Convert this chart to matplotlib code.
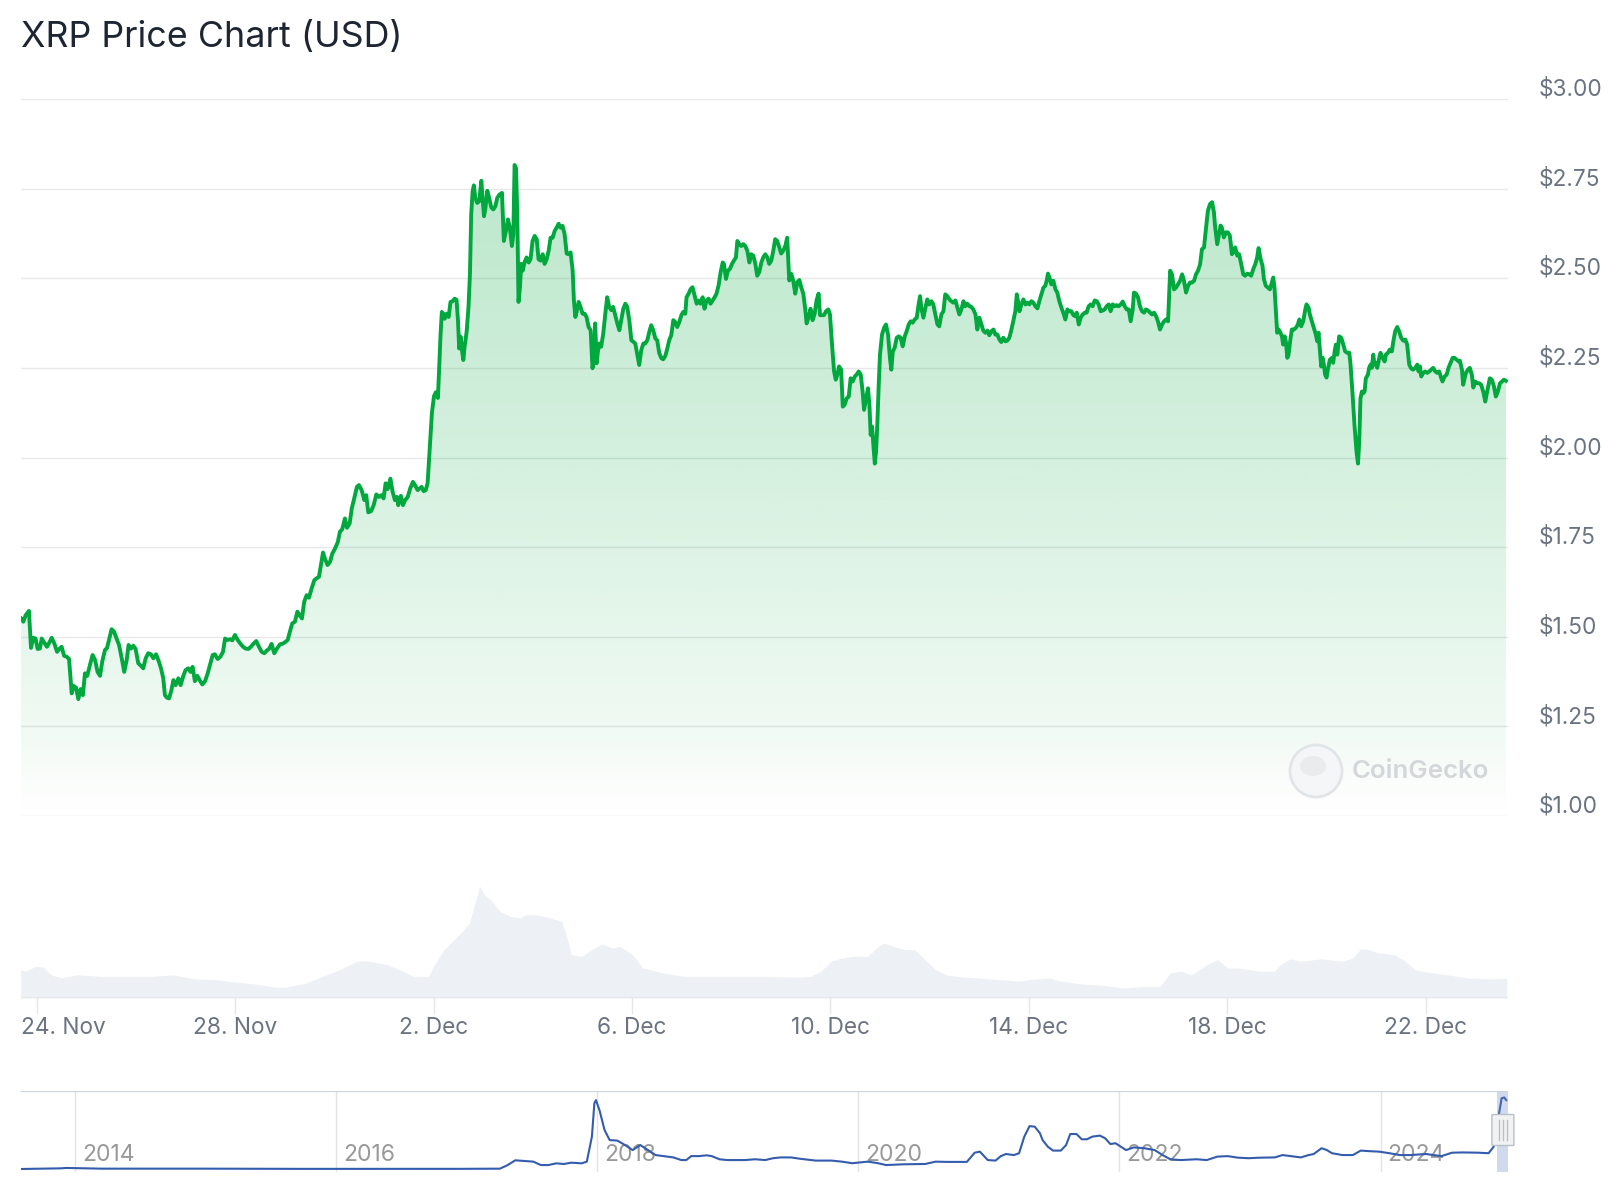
import numpy as np
import pandas as pd
import matplotlib
matplotlib.use("Agg")
import matplotlib.pyplot as plt
import matplotlib.dates as mdates
import matplotlib.transforms as mtransforms
from matplotlib.patches import Ellipse, FancyBboxPatch

plt.rcParams['font.family'] = ['Inter', 'DejaVu Sans']

# ---------------- data ----------------
START = '2024-11-23 12:00'           # hours below are counted from here
X_RANGE = ('2024-11-23 16:10', '2024-12-23 15:42')

# (hours since START, price in USD)
price_nov = [
    (4.4,1.551),(5.5,1.542),(6.6,1.560),(8.2,1.572),(9.2,1.469),(10.3,1.497),(11.4,1.495),(12.4,1.466),
    (13.5,1.467),(14.4,1.495),(15.6,1.484),(16.9,1.472),(18.1,1.484),(19.2,1.497),(20.5,1.481),(21.8,1.458),
    (22.9,1.466),(24.0,1.472),(25.2,1.447),(26.5,1.444),(27.6,1.438),(28.9,1.342),(29.8,1.363),(31.0,1.358),
    (32.1,1.326),(33.2,1.354),(34.3,1.337),(35.3,1.398),(36.4,1.391),(37.7,1.421),(39.0,1.449),(40.2,1.435),
    (41.4,1.402),(42.6,1.391),(43.7,1.432),(45.0,1.463),(46.0,1.469),(47.1,1.495),(48.2,1.521),(49.4,1.514),
    (50.6,1.495),(51.8,1.477),(53.1,1.440),(54.3,1.402),(55.5,1.435),(56.4,1.477),(57.6,1.467),(58.7,1.475),
    (59.8,1.466),(61.1,1.426),(62.4,1.419),(63.5,1.412),(64.7,1.440),(65.9,1.454),(67.2,1.451),(68.4,1.440),
    (69.7,1.451),(70.8,1.435),(72.1,1.412),(73.2,1.384),(74.0,1.337),(75.0,1.330),(76.0,1.328),(77.1,1.350),
    (78.1,1.379),(79.2,1.365),(80.5,1.384),(81.6,1.365),(82.9,1.391),(84.0,1.407),(85.3,1.412),(86.4,1.402),
    (87.4,1.416),(88.5,1.376),(89.7,1.391),(90.8,1.379),(92.1,1.367),(93.4,1.376),(94.7,1.398),(95.8,1.421),
    (97.1,1.449),(98.2,1.451),(99.5,1.438),(100.8,1.444),(102.1,1.458),(103.1,1.495),(104.2,1.491),(105.5,1.493),
    (106.6,1.490),(107.9,1.505),(109.2,1.491),(110.5,1.481),(111.8,1.472),(113.1,1.467),(114.4,1.466),(115.6,1.472),
    (116.9,1.481),(118.2,1.488),(119.5,1.472),(120.8,1.458),(122.1,1.454),(123.4,1.462),(124.5,1.467),(125.6,1.480),
    (126.9,1.454),(128.2,1.467),(129.7,1.479),(131.1,1.481),(132.4,1.486),(133.4,1.491),(134.7,1.519),(135.6,1.537),
    (136.9,1.542),(138.1,1.570),(139.2,1.560),(140.3,1.551),(141.4,1.598),(142.6,1.616),(143.7,1.609),(145.0,1.635),
    (146.3,1.658),(147.4,1.663),(148.5,1.667),(149.5,1.700),(150.5,1.735),(151.4,1.718),(152.7,1.700),(153.9,1.709),
    (155.0,1.732),(156.3,1.746),(157.6,1.763),(158.7,1.793),(159.8,1.800),(161.1,1.830),(162.1,1.804),(163.4,1.816),
    (164.4,1.858),(165.6,1.886),(166.9,1.918),(167.9,1.923),(169.2,1.909),(170.5,1.881),(171.4,1.895),(172.4,1.847),
    (173.7,1.850),(175.0,1.867),(176.3,1.897),(177.6,1.890),(178.9,1.895),(179.8,1.886),(180.8,1.928),(181.8,1.912),
    (183.1,1.941),(184.2,1.904),(185.3,1.881),(186.3,1.890),(186.9,1.867),(188.2,1.893),(189.2,1.867),(190.2,1.881),
    (191.5,1.890),(192.7,1.914),(194.0,1.932),(195.0,1.923),(196.3,1.909),(197.4,1.914),(198.2,1.918),(199.2,1.906),
    (200.2,1.909),(201.1,1.928),
]
price_dec_a = [
    (202.2,2.032),(203.2,2.125),(204.2,2.171),(205.1,2.182),(206.1,2.166),(206.8,2.263),(207.4,2.346),(208.0,2.406),
    (208.7,2.401),(209.3,2.387),(210.3,2.401),(211.3,2.392),(212.2,2.434),(213.2,2.436),(214.2,2.443),(215.1,2.440),
    (215.8,2.383),(216.4,2.304),(217.1,2.337),(217.7,2.300),(218.4,2.272),(219.0,2.309),(220.0,2.351),(220.9,2.420),
    (221.6,2.512),(222.2,2.678),(222.9,2.743),(223.5,2.759),(224.2,2.724),(225.1,2.710),(226.1,2.715),(227.1,2.772),
    (227.7,2.724),(228.4,2.673),(229.0,2.692),(230.0,2.744),(230.9,2.724),(231.9,2.698),(232.9,2.692),(233.9,2.701),
    (234.8,2.724),(235.8,2.733),(237.1,2.738),(238.0,2.604),(239.0,2.632),(240.0,2.664),(240.9,2.641),(241.9,2.590),
    (242.6,2.623),(243.2,2.816),(243.9,2.807),(244.5,2.678),(245.1,2.434),(245.8,2.475),(246.4,2.540),(247.1,2.521),
    (248.0,2.544),(249.0,2.558),(250.0,2.544),(250.9,2.553),(251.9,2.604),(252.9,2.618),(253.9,2.609),(254.8,2.553),
    (255.8,2.549),(256.8,2.567),(257.7,2.540),(258.7,2.553),(259.7,2.577),(260.6,2.613),(261.6,2.613),(262.6,2.632),
    (263.5,2.641),(264.5,2.652),(265.5,2.641),(266.4,2.646),(267.4,2.623),(268.4,2.569),(269.3,2.567),(270.3,2.572),
    (271.3,2.521),(271.9,2.438),(272.6,2.392),(273.2,2.406),(274.2,2.434),(275.1,2.420),(276.1,2.401),(277.1,2.401),
    (278.0,2.392),(279.0,2.364),(280.0,2.355),(280.9,2.249),(281.6,2.272),(282.2,2.374),(282.9,2.263),(283.5,2.295),
    (284.2,2.318),(285.1,2.309),(286.1,2.346),(287.1,2.401),(288.0,2.447),(289.0,2.420),(290.0,2.411),(290.9,2.420),
    (291.9,2.397),(292.9,2.374),(293.9,2.355),(294.8,2.383),(295.8,2.415),(296.8,2.429),(297.7,2.420),(298.7,2.383),
    (299.7,2.327),(300.6,2.323),(301.6,2.318),(302.6,2.286),(303.5,2.258),(304.5,2.300),(305.5,2.318),(306.4,2.318),
    (307.4,2.327),(308.4,2.351),(309.3,2.369),(310.3,2.355),(311.3,2.332),(312.2,2.327),(313.2,2.291),(314.2,2.277),
    (315.1,2.274),(316.1,2.283),(317.1,2.304),(318.0,2.327),(319.0,2.341),(320.0,2.383),(320.9,2.378),(321.9,2.364),
    (322.9,2.378),(323.9,2.397),(324.8,2.406),(325.8,2.401),(326.4,2.447),(327.4,2.457),(328.4,2.470),(329.3,2.475),
    (330.3,2.452),(331.3,2.429),(332.2,2.438),(333.2,2.429),(334.2,2.447),(335.1,2.415),(336.1,2.438),(337.1,2.443),
    (338.0,2.429),(339.0,2.438),(340.0,2.447),(340.9,2.457),(341.9,2.480),(342.9,2.517),(343.9,2.544),(344.5,2.540),
    (345.5,2.498),(346.4,2.521),(347.4,2.526),(348.4,2.540),(349.3,2.549),(350.3,2.558),(351.0,2.604),(351.9,2.595),
    (352.9,2.590),(353.9,2.595),(354.8,2.590),(355.8,2.577),(356.8,2.544),(357.7,2.567),(358.7,2.563),(359.7,2.540),
    (360.6,2.507),(361.6,2.517),(362.6,2.544),(363.5,2.558),(364.5,2.567),(365.5,2.558),(366.4,2.540),(367.4,2.549),
    (368.4,2.577),(369.3,2.609),(370.3,2.604),(371.3,2.586),(372.2,2.569),(373.2,2.577),(374.2,2.590),(375.1,2.613),
    (376.1,2.494),(377.1,2.512),(378.0,2.494),(379.0,2.457),(380.0,2.489),(381.0,2.495),(381.9,2.475),(382.9,2.457),
    (383.9,2.411),(384.5,2.374),(385.5,2.392),(386.4,2.415),(387.4,2.383),(388.4,2.401),(389.3,2.438),(390.3,2.457),
    (391.0,2.397),
]
price_dec_b = [
    (392.9,2.397),(393.9,2.408),(395.0,2.413),(395.8,2.399),(396.8,2.315),(397.8,2.240),(398.6,2.217),(399.4,2.231),
    (400.2,2.254),(401.2,2.245),(402.0,2.142),(402.9,2.147),(403.9,2.165),(404.9,2.170),(405.8,2.221),(406.8,2.212),
    (407.8,2.226),(408.7,2.231),(409.7,2.240),(410.7,2.231),(411.6,2.184),(412.3,2.133),(413.3,2.165),(414.2,2.193),
    (414.9,2.147),(415.5,2.063),(416.2,2.086),(416.8,2.035),(417.5,1.983),(418.1,2.016),(418.7,2.091),(419.4,2.203),
    (420.0,2.287),(421.0,2.343),(422.0,2.362),(422.9,2.371),(423.9,2.343),(424.9,2.273),(425.5,2.245),(426.2,2.296),
    (427.1,2.306),(428.1,2.334),(429.1,2.338),(430.0,2.334),(431.0,2.310),(432.0,2.338),(432.9,2.352),(433.9,2.371),
    (434.9,2.380),(435.8,2.376),(436.8,2.385),(437.8,2.390),(438.7,2.427),(439.4,2.450),(440.0,2.418),(441.0,2.390),
    (442.0,2.418),(442.9,2.441),(443.9,2.427),(444.9,2.436),(445.8,2.427),(446.8,2.399),(447.8,2.371),(448.7,2.366),
    (449.7,2.399),(450.7,2.408),(451.6,2.455),(452.6,2.450),(453.6,2.441),(454.5,2.436),(455.5,2.432),(456.5,2.438),
    (457.5,2.418),(458.4,2.399),(459.4,2.413),(460.4,2.436),(461.3,2.422),(462.3,2.429),(463.3,2.422),(464.2,2.420),
    (465.2,2.413),(466.2,2.399),(467.1,2.357),(468.1,2.390),(469.1,2.371),(470.0,2.354),(471.0,2.348),(472.0,2.354),
    (472.9,2.341),(473.9,2.352),(474.9,2.357),(475.8,2.343),(476.8,2.343),(477.8,2.329),(478.7,2.322),(479.7,2.334),
    (480.7,2.324),(481.6,2.326),(482.6,2.334),(483.6,2.357),(484.5,2.380),(485.5,2.408),(486.2,2.455),(486.8,2.436),
    (487.5,2.408),(488.4,2.427),(489.4,2.441),(490.4,2.427),(491.3,2.432),(492.3,2.427),(493.3,2.436),(494.2,2.432),
    (495.2,2.422),(496.2,2.416),(497.1,2.436),(498.1,2.455),(499.1,2.474),(500.0,2.479),(500.7,2.494),(501.3,2.513),
    (502.0,2.502),(502.9,2.483),(503.9,2.493),(504.9,2.469),(505.8,2.460),(506.8,2.436),(507.8,2.418),(508.7,2.404),
    (509.7,2.385),(510.7,2.413),(511.6,2.408),(512.6,2.408),(513.6,2.397),(514.5,2.394),(515.2,2.404),(516.2,2.371),
    (517.1,2.390),(518.1,2.399),(519.1,2.404),(520.0,2.404),(521.0,2.422),(522.0,2.427),(522.9,2.422),(523.9,2.438),
    (524.9,2.436),(525.8,2.427),(526.8,2.408),(527.8,2.410),(528.7,2.413),(529.7,2.422),(530.7,2.427),(531.6,2.408),
    (532.6,2.427),(533.6,2.422),(534.5,2.425),(535.5,2.422),(536.5,2.427),(537.5,2.435),(538.4,2.422),(539.4,2.413),
    (540.4,2.413),(541.3,2.380),(542.3,2.413),(542.9,2.460),(543.9,2.457),(544.9,2.446),(545.8,2.422),(546.8,2.408),
    (547.8,2.404),(548.7,2.413),(549.7,2.410),(550.7,2.404),(551.6,2.399),(552.6,2.404),(553.6,2.394),(554.5,2.380),
    (555.5,2.357),(556.5,2.371),(557.5,2.380),(558.4,2.385),(559.4,2.380),(560.4,2.521),(561.3,2.511),(562.3,2.469),
    (563.3,2.474),(564.2,2.483),(565.2,2.493),(566.2,2.511),(567.1,2.493),(568.1,2.460),(569.1,2.479),(570.0,2.488),
    (571.0,2.488),(572.0,2.493),(572.9,2.511),(573.9,2.521),(574.9,2.539),(575.8,2.581),(576.8,2.586),(577.8,2.642),
    (578.7,2.689),(579.7,2.707),(580.7,2.712),(581.6,2.684),
]
price_dec_c = [
    (582.2,2.642),(583.2,2.595),(584.8,2.647),(585.4,2.642),(586.4,2.614),(587.4,2.628),(588.3,2.628),(589.3,2.619),
    (590.3,2.567),(590.9,2.572),(591.9,2.586),(592.9,2.563),(593.8,2.567),(594.8,2.539),(595.8,2.511),(596.7,2.507),
    (597.7,2.513),(598.7,2.511),(599.6,2.507),(600.6,2.525),(601.6,2.539),(602.5,2.558),(603.2,2.584),(604.2,2.553),
    (605.1,2.535),(605.8,2.497),(606.7,2.479),(607.7,2.474),(608.7,2.469),(609.6,2.488),(610.3,2.502),(610.9,2.474),
    (611.6,2.408),(612.2,2.348),(612.9,2.357),(613.8,2.348),(614.5,2.338),(615.1,2.315),(615.8,2.338),(616.4,2.324),
    (617.1,2.278),(617.7,2.287),(618.7,2.334),(619.3,2.357),(620.3,2.357),(621.3,2.362),(622.2,2.371),(622.9,2.385),
    (623.8,2.366),(624.8,2.380),(625.8,2.413),(626.4,2.427),(627.4,2.418),(628.0,2.399),(629.0,2.380),(630.0,2.362),
    (630.9,2.343),(631.6,2.324),(632.2,2.348),(632.9,2.296),(633.5,2.254),(634.2,2.278),(634.8,2.259),(635.4,2.231),
    (636.1,2.223),(636.7,2.245),(637.7,2.273),(638.7,2.278),(639.3,2.264),(640.0,2.296),(640.6,2.315),(641.3,2.287),
    (642.2,2.338),(643.2,2.334),(644.2,2.315),(645.1,2.296),(646.1,2.292),(647.1,2.292),(647.7,2.259),(648.7,2.175),
    (649.6,2.091),(650.6,2.016),(651.3,1.983),(651.9,2.044),(652.5,2.165),(653.2,2.184),(653.8,2.179),(654.5,2.184),
    (655.1,2.221),(656.1,2.231),(656.7,2.250),(657.4,2.259),(658.0,2.250),(658.7,2.287),(659.3,2.259),(660.0,2.264),
    (660.6,2.250),(661.6,2.278),(662.2,2.292),(663.2,2.278),(664.2,2.268),(664.8,2.287),(665.8,2.292),(666.7,2.301),
    (667.7,2.296),(668.3,2.320),(669.3,2.352),(670.3,2.364),(671.2,2.352),(672.2,2.334),(673.2,2.326),(674.2,2.329),
    (675.1,2.315),(676.1,2.259),(677.1,2.248),(678.0,2.245),(679.0,2.250),(680.0,2.259),(680.6,2.240),(681.3,2.254),
    (681.9,2.226),(682.9,2.236),(683.8,2.240),(684.8,2.236),(685.8,2.240),(686.7,2.245),(687.7,2.250),(688.7,2.240),
    (689.6,2.236),(690.6,2.240),(691.6,2.221),(692.2,2.212),(693.2,2.226),(694.2,2.231),(695.1,2.250),(696.1,2.264),
    (697.1,2.278),(698.0,2.278),(699.0,2.273),(700.0,2.268),(700.6,2.270),(701.6,2.245),(702.2,2.203),(702.9,2.221),
    (703.5,2.236),(704.5,2.245),(705.4,2.250),(706.4,2.231),(707.1,2.195),(708.0,2.212),(709.0,2.207),(710.0,2.207),
    (710.9,2.203),(711.9,2.184),(712.9,2.156),(713.5,2.175),(714.5,2.203),(715.1,2.221),(716.1,2.217),(717.1,2.198),
    (718.0,2.170),(719.0,2.184),(720.0,2.207),(721.0,2.212),(721.9,2.217),(722.9,2.214),
]

# (hours since START, 24h volume in billion USD)
volume_points = [
    (4.2,7.1),(6.5,6.7),(11.5,7.9),(15.2,7.7),(18.9,5.8),(23.8,5.0),(31.2,5.8),(43.6,5.4),(55.9,5.4),
    (68.3,5.4),(78.1,5.8),(88.0,4.8),(97.9,4.6),(107.8,4.0),(117.6,3.5),(127.5,2.7),(132.4,2.7),(142.3,3.75),
    (152.2,5.8),(159.6,7.3),(167.0,9.2),(171.9,9.3),(181.8,8.3),(189.2,6.7),(194.2,5.4),(201.6,5.4),(203.5,7.5),
    (209.0,12.1),(216.4,15.8),(221.3,18.75),(223.8,23.3),(226.3,27.9),(228.7,25.8),(232.4,24.2),(236.1,21.7),
    (241.1,20.4),(246.0,20.0),(248.5,20.8),(253.4,20.8),(260.8,20.0),(265.8,19.2),(268.2,15.8),(270.7,10.8),
    (275.6,10.4),(280.6,12.1),(285.5,13.5),(290.5,12.5),(294.2,12.9),(300.3,10.8),(305.3,7.5),(315.1,6.25),
    (325.0,5.4),(339.8,5.4),(352.2,5.4),(364.5,5.4),(381.3,5.2),(386.3,5.4),(391.4,6.7),(396.4,9.2),(401.5,10.0),
    (406.5,10.4),(414.1,10.4),(419.2,12.9),(421.7,13.75),(426.7,12.9),(431.8,12.1),(436.8,12.1),(441.9,9.6),
    (446.9,7.1),(452.0,5.8),(457.0,5.4),(467.1,5.0),(477.2,4.6),(487.3,4.2),(492.4,4.6),(502.5,5.0),(507.5,4.2),
    (517.6,3.5),(527.7,3.2),(537.8,2.5),(547.9,2.9),(555.5,2.9),(560.5,6.25),(565.6,6.7),(570.6,5.8),(578.2,8.3),
    (583.2,9.6),(588.3,7.5),(593.3,7.5),(598.4,7.1),(603.4,6.7),(611.0,6.7),(613.5,8.3),(618.6,9.8),(623.6,9.2),
    (633.7,9.8),(643.8,9.2),(648.8,10.0),(652.6,12.3),(656.4,12.1),(661.5,11.25),(669.0,10.8),(674.1,9.2),
    (679.1,7.1),(684.2,6.5),(694.3,5.8),(704.4,5.0),(714.5,4.8),(723.3,5.0),
]

# navigator: (decimal year, price in USD)
nav_points = [
    (2013.582,0.0),(2013.894,0.025),(2013.93,0.04),(2014.207,0.013),(2014.989,0.013),(2015.77,0.005),
    (2016.94,0.006),(2017.255,0.013),(2017.314,0.15),(2017.372,0.33),(2017.45,0.30),(2017.51,0.28),
    (2017.568,0.15),(2017.626,0.15),(2017.685,0.215),(2017.744,0.19),(2017.802,0.24),(2017.88,0.215),
    (2017.92,0.28),(2017.959,1.23),(2017.978,2.50),(2017.99,2.62),(2018.017,2.24),(2018.056,1.48),
    (2018.095,1.10),(2018.154,1.08),(2018.213,0.91),(2018.271,0.72),(2018.33,0.91),(2018.388,0.72),
    (2018.447,0.53),(2018.506,0.49),(2018.584,0.44),(2018.643,0.34),(2018.682,0.34),(2018.72,0.49),
    (2018.779,0.49),(2018.838,0.52),(2018.877,0.49),(2018.936,0.37),(2018.994,0.34),(2019.053,0.34),
    (2019.131,0.34),(2019.209,0.37),(2019.287,0.34),(2019.346,0.41),(2019.405,0.44),(2019.483,0.44),
    (2019.553,0.39),(2019.673,0.32),(2019.793,0.32),(2019.873,0.28),(2019.953,0.22),(2020.072,0.28),
    (2020.152,0.22),(2020.212,0.15),(2020.352,0.18),(2020.512,0.19),(2020.592,0.28),(2020.672,0.27),
    (2020.831,0.27),(2020.891,0.62),(2020.931,0.66),(2020.991,0.34),(2021.051,0.32),(2021.091,0.49),
    (2021.131,0.57),(2021.191,0.53),(2021.231,0.60),(2021.271,1.23),(2021.311,1.63),(2021.351,1.61),
    (2021.391,1.36),(2021.411,1.10),(2021.451,0.85),(2021.491,0.70),(2021.551,0.70),(2021.591,0.91),
    (2021.623,1.33),(2021.671,1.33),(2021.711,1.13),(2021.751,1.13),(2021.791,1.23),(2021.85,1.27),
    (2021.89,1.17),(2021.93,0.95),(2021.97,0.98),(2022.01,0.85),(2022.05,0.72),(2022.11,0.82),
    (2022.19,0.79),(2022.27,0.72),(2022.33,0.53),(2022.39,0.37),(2022.47,0.34),(2022.59,0.37),
    (2022.669,0.34),(2022.749,0.47),(2022.829,0.49),(2022.909,0.43),(2022.989,0.41),(2023.069,0.43),
    (2023.189,0.44),(2023.249,0.53),(2023.309,0.49),(2023.389,0.44),(2023.449,0.53),(2023.488,0.57),
    (2023.548,0.79),(2023.588,0.72),(2023.628,0.60),(2023.708,0.53),(2023.788,0.53),(2023.848,0.70),
    (2023.908,0.68),(2023.988,0.66),(2024.068,0.60),(2024.148,0.53),(2024.227,0.53),(2024.347,0.57),
    (2024.467,0.49),(2024.547,0.62),(2024.627,0.63),(2024.747,0.62),(2024.827,0.60),(2024.867,0.85),
    (2024.899,1.86),(2024.927,2.69),(2024.947,2.72),(2024.963,2.62),
]

y_ticks = [1.00, 1.25, 1.50, 1.75, 2.00, 2.25, 2.50, 2.75, 3.00]
y_tick_labels = ['$1.00', '$1.25', '$1.50', '$1.75', '$2.00', '$2.25', '$2.50', '$2.75', '$3.00']
x_tick_dates = ['2024-11-24', '2024-11-28', '2024-12-02', '2024-12-06',
                '2024-12-10', '2024-12-14', '2024-12-18', '2024-12-22']
x_tick_labels = ['24. Nov', '28. Nov', '2. Dec', '6. Dec', '10. Dec', '14. Dec', '18. Dec', '22. Dec']
nav_year_ticks = [2014, 2016, 2018, 2020, 2022, 2024]
nav_range = (2013.583, 2024.973)
nav_selection = (2024.892, 2024.973)
title = 'XRP Price Chart (USD)'

# ---------------- styling ----------------
GREEN = '#00a83e'
LABEL = '#6b7383'
GRID = '#e8e8e8'

W, H = 1618, 1200
fig = plt.figure(figsize=(W / 100, H / 100), dpi=100)
fig.patch.set_facecolor('white')


def px_axes(l, t, r, b):
    a = fig.add_axes([l / W, 1 - b / H, (r - l) / W, (b - t) / H])
    a.set_facecolor('none')
    for s in a.spines.values():
        s.set_visible(False)
    a.set_xticks([])
    a.set_yticks([])
    return a


start_num = mdates.date2num(pd.Timestamp(START).to_pydatetime())


def hours_to_num(h):
    return start_num + np.asarray(h, dtype=float) / 24.0


xr = [mdates.date2num(pd.Timestamp(d).to_pydatetime()) for d in X_RANGE]

price_pts = price_nov + price_dec_a + price_dec_b + price_dec_c
ph = np.array([p[0] for p in price_pts])
pv = np.array([p[1] for p in price_pts])
px = hours_to_num(ph)

# ---- price panel ----
ax = px_axes(20.6, 99, 1507.6, 816)
for yv in y_ticks:
    ax.axhline(yv, color=GRID, lw=1.0, zorder=0)

top = pv.max()
levels = np.linspace(1.0, top, 400)
alpha = np.interp(levels, [1.0, 1.27, 2.0, top], [0.0, 0.065, 0.17, 0.27])
grad = np.zeros((400, 1, 4))
grad[..., 0:3] = matplotlib.colors.to_rgb(GREEN)
grad[..., 3] = alpha[:, None]
im = ax.imshow(grad, extent=[px[0], px[-1], 1.0, top], origin='lower',
               aspect='auto', zorder=1, interpolation='bilinear')
poly = ax.fill_between(px, 1.0, pv, facecolor='none', edgecolor='none')
im.set_clip_path(poly.get_paths()[0], transform=ax.transData)
ax.plot(px, pv, color=GREEN, lw=2.8, solid_joinstyle='round', zorder=3)
ax.set_xlim(xr)
ax.set_ylim(1.0, 3.0)

lab_trans = mtransforms.offset_copy(
    mtransforms.blended_transform_factory(ax.transAxes, ax.transData),
    fig=fig, x=0, y=9.6, units='dots')
for yv, lab in zip(y_ticks, y_tick_labels):
    ax.text(1.0 + (1538.6 - 1507.6) / (1507.6 - 20.6), yv, lab, transform=lab_trans,
            ha='left', va='center', fontsize=16.3, color=LABEL, clip_on=False)

# watermark
fig.add_artist(Ellipse((1316 / W, 1 - 771 / H), 52 / W, 52 / H, transform=fig.transFigure,
                       facecolor='#f5f6f7', edgecolor='#e2e5e8', lw=2, zorder=5))
fig.add_artist(Ellipse((1313 / W, 1 - 766 / H), 26 / W, 20 / H, transform=fig.transFigure,
                       facecolor='#e9ebed', edgecolor='none', zorder=5))
fig.text(1352 / W, 1 - 771 / H, 'CoinGecko', fontsize=18.6, fontweight='semibold',
         color='#d4d7da', ha='left', va='center', zorder=6)

# ---- volume panel ----
vol = px_axes(20.6, 870, 1507.6, 998)
vh = np.array([v[0] for v in volume_points])
vv = np.array([v[1] for v in volume_points])
vol.fill_between(hours_to_num(vh), 0, vv, color='#edf0f4', lw=0)
vol.axhline(0, color='#e3e7ee', lw=1.5)
vol.set_xlim(xr)
vol.set_ylim(0, 32)
tick_nums = [mdates.date2num(pd.Timestamp(d).to_pydatetime()) for d in x_tick_dates]
tick_trans = mtransforms.offset_copy(
    mtransforms.blended_transform_factory(vol.transData, vol.transAxes),
    fig=fig, x=0, y=-29.7, units='dots')
for i, (tn, lab) in enumerate(zip(tick_nums, x_tick_labels)):
    vol.plot([tn, tn], [0, -15 / 4.0], color='#e6e6e6', lw=1, clip_on=False)
    if i == 0:
        vol.text(0.0, 0.0, lab, transform=mtransforms.offset_copy(vol.transAxes, fig=fig, x=0, y=-29.7, units='dots'),
                 ha='left', va='center', fontsize=16.3, color=LABEL)
    else:
        vol.text(tn, 0.0, lab, transform=tick_trans, ha='center', va='center',
                 fontsize=16.3, color=LABEL)

# ---- navigator ----
nav = px_axes(20.6, 1091, 1507.6, 1172)
ny = np.array([p[0] for p in nav_points])
npv = np.array([p[1] for p in nav_points])
nav.set_xlim(nav_range)
nav.set_ylim(-3 / 26.3, 78 / 26.3)
for yr in nav_year_ticks:
    nav.axvline(yr, color='#e3e3e3', lw=1, zorder=0)
    nav.text(yr, 0.55, str(yr), transform=mtransforms.offset_copy(nav.transData, fig=fig, x=7, y=0, units='dots'),
             ha='left', va='center', fontsize=16.5, color='#999999', zorder=1)
nav.plot(ny, npv, color='#335cad', lw=1.5, zorder=2)
nav.axvspan(*nav_selection, color=(102 / 255, 133 / 255, 194 / 255, 0.3), lw=0, zorder=3)
nav.axhline(78 / 26.3, color='#cdd3dd', lw=1.6, zorder=4)
hx = 2024.937
hw = 22 / 130.56
hh = 31 / 26.3
hy = 39 / 26.3
nav.add_patch(FancyBboxPatch((hx - hw / 2, hy - hh / 2), hw, hh,
                             boxstyle='round,pad=0,rounding_size=0.02',
                             facecolor='#f2f2f2', edgecolor='#b8bfcc', lw=1, zorder=5,
                             mutation_aspect=26.3 / 130.56 * 5, clip_on=False))
for dx in (-4, 0, 4):
    nav.plot([hx + dx / 130.56] * 2, [hy - 10 / 26.3, hy + 10 / 26.3], color='#b8bfcc',
             lw=1, zorder=6, clip_on=False)

# ---- title ----
fig.text(21 / W, 1 - 38 / H, title, fontsize=25.8, color='#1e2533', ha='left', va='center')

fig.savefig('out.png', dpi=100, facecolor='white')
